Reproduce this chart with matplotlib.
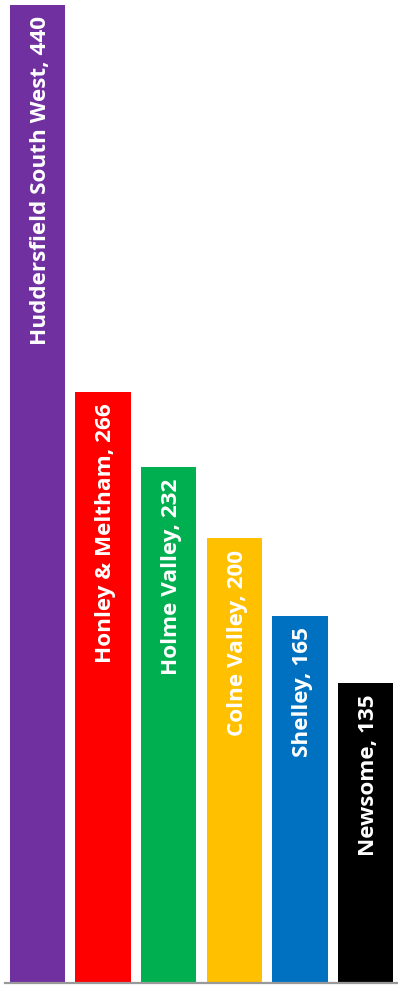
import matplotlib.pyplot as plt

# Data
areas = ["Huddersfield South West", "Honley & Meltham", "Holme Valley",
         "Colne Valley", "Shelley", "Newsome"]
counts = [440, 266, 232, 200, 165, 135]
colours = ["#7030A0", "#FF0000", "#00B050", "#FFC000", "#0070C0", "#000000"]

fig = plt.figure(figsize=(3.98, 9.85), dpi=100)
ax = fig.add_axes([4.5 / 398, 2 / 985, 394 / 398, 978 / 985])

x = range(len(areas))
ax.bar(x, counts, width=0.845, color=colours, zorder=2)

for i, (name, val) in enumerate(zip(areas, counts)):
    ax.annotate(f"{name}, {val}", xy=(i, val), xytext=(2, -8),
                textcoords="offset points", rotation=90, ha="center", va="top",
                color="white", fontsize=16.2, fontweight="bold",
                family="Open Sans")

ax.set_xlim(-0.5, len(areas) - 0.5)
ax.set_ylim(0, 440)
for side in ["top", "right", "left"]:
    ax.spines[side].set_visible(False)
ax.spines["bottom"].set_color("#999999")
ax.spines["bottom"].set_linewidth(1.6)
ax.spines["bottom"].set_zorder(3)
ax.set_xticks([])
ax.set_yticks([])

fig.savefig("out.png", dpi=100)
